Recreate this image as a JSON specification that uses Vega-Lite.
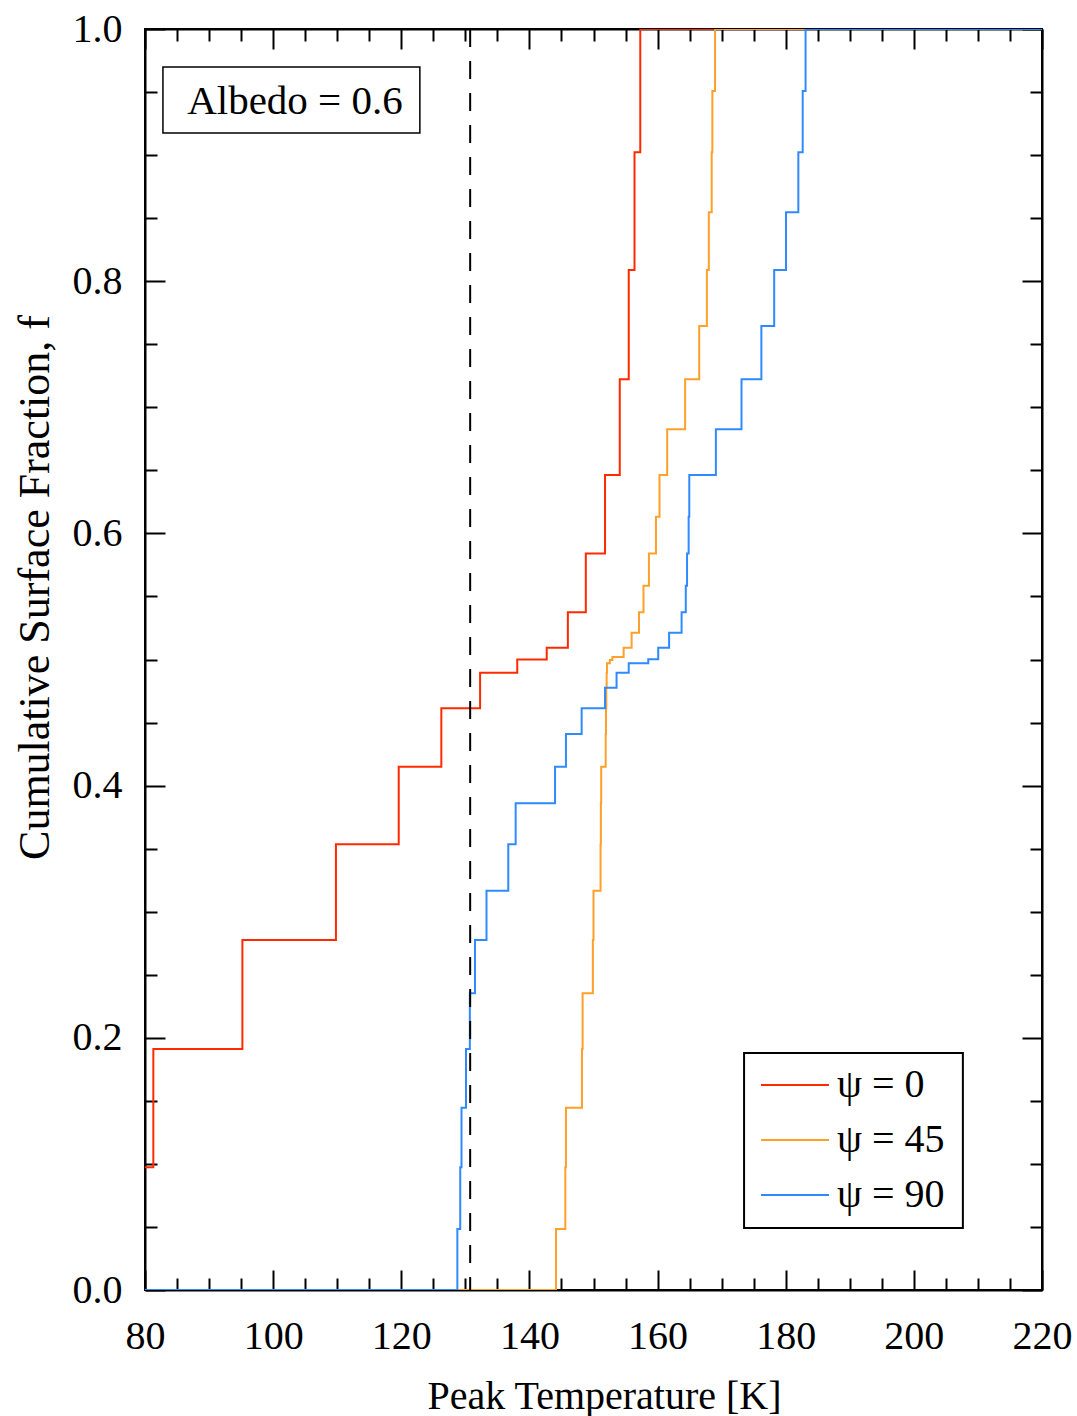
{
  "$schema": "https://vega.github.io/schema/vega-lite/v6.json",
  "width": 897,
  "height": 1261,
  "autosize": {"type": "none"},
  "padding": {"left": 145, "top": 29, "right": 35, "bottom": 126},
  "background": "white",
  "config": {
    "view": {"stroke": "black", "strokeWidth": 2},
    "font": "Liberation Serif",
    "axis": {
      "grid": false,
      "domainColor": "black",
      "domainWidth": 2,
      "tickColor": "black",
      "tickWidth": 2,
      "labelFont": "Liberation Serif",
      "labelFontSize": 40,
      "labelColor": "black",
      "titleFont": "Liberation Serif",
      "titleFontSize": 40,
      "titleFontWeight": "normal",
      "titleColor": "black"
    }
  },
  "datasets": {
    "curves": [
      {"psi": "ψ = 0", "i": 1, "T": 80, "f": 0.0973},
      {"psi": "ψ = 0", "i": 2, "T": 81.3, "f": 0.1911},
      {"psi": "ψ = 0", "i": 3, "T": 95.2, "f": 0.2776},
      {"psi": "ψ = 0", "i": 4, "T": 109.8, "f": 0.3534},
      {"psi": "ψ = 0", "i": 5, "T": 119.6, "f": 0.415},
      {"psi": "ψ = 0", "i": 6, "T": 126.25, "f": 0.4613},
      {"psi": "ψ = 0", "i": 7, "T": 132.3, "f": 0.4895},
      {"psi": "ψ = 0", "i": 8, "T": 138.1, "f": 0.5},
      {"psi": "ψ = 0", "i": 9, "T": 142.7, "f": 0.5094},
      {"psi": "ψ = 0", "i": 10, "T": 146.0, "f": 0.5374},
      {"psi": "ψ = 0", "i": 11, "T": 148.8, "f": 0.584},
      {"psi": "ψ = 0", "i": 12, "T": 151.8, "f": 0.6463},
      {"psi": "ψ = 0", "i": 13, "T": 154.1, "f": 0.7222},
      {"psi": "ψ = 0", "i": 14, "T": 155.5, "f": 0.8089},
      {"psi": "ψ = 0", "i": 15, "T": 156.4, "f": 0.9022},
      {"psi": "ψ = 0", "i": 16, "T": 157.3, "f": 1.0},
      {"psi": "ψ = 0", "i": 17, "T": 220, "f": 1.0},

      {"psi": "ψ = 45", "i": 1, "T": 80, "f": 0},
      {"psi": "ψ = 45", "i": 2, "T": 144.15, "f": 0.0484},
      {"psi": "ψ = 45", "i": 3, "T": 145.6, "f": 0.0973},
      {"psi": "ψ = 45", "i": 4, "T": 145.7, "f": 0.1446},
      {"psi": "ψ = 45", "i": 5, "T": 148.2, "f": 0.1911},
      {"psi": "ψ = 45", "i": 6, "T": 148.3, "f": 0.2353},
      {"psi": "ψ = 45", "i": 7, "T": 149.9, "f": 0.2776},
      {"psi": "ψ = 45", "i": 8, "T": 150.0, "f": 0.3167},
      {"psi": "ψ = 45", "i": 9, "T": 151.1, "f": 0.3534},
      {"psi": "ψ = 45", "i": 10, "T": 151.15, "f": 0.386},
      {"psi": "ψ = 45", "i": 11, "T": 151.2, "f": 0.415},
      {"psi": "ψ = 45", "i": 12, "T": 151.9, "f": 0.4409},
      {"psi": "ψ = 45", "i": 13, "T": 151.95, "f": 0.4613},
      {"psi": "ψ = 45", "i": 14, "T": 152.0, "f": 0.4776},
      {"psi": "ψ = 45", "i": 15, "T": 152.05, "f": 0.4895},
      {"psi": "ψ = 45", "i": 16, "T": 152.1, "f": 0.497},
      {"psi": "ψ = 45", "i": 17, "T": 152.55, "f": 0.4996},
      {"psi": "ψ = 45", "i": 18, "T": 152.95, "f": 0.502},
      {"psi": "ψ = 45", "i": 19, "T": 154.7, "f": 0.5094},
      {"psi": "ψ = 45", "i": 20, "T": 155.95, "f": 0.5213},
      {"psi": "ψ = 45", "i": 21, "T": 157.1, "f": 0.5374},
      {"psi": "ψ = 45", "i": 22, "T": 157.8, "f": 0.5585},
      {"psi": "ψ = 45", "i": 23, "T": 158.65, "f": 0.584},
      {"psi": "ψ = 45", "i": 24, "T": 159.75, "f": 0.6133},
      {"psi": "ψ = 45", "i": 25, "T": 160.3, "f": 0.6463},
      {"psi": "ψ = 45", "i": 26, "T": 161.5, "f": 0.6825},
      {"psi": "ψ = 45", "i": 27, "T": 164.3, "f": 0.7222},
      {"psi": "ψ = 45", "i": 28, "T": 166.5, "f": 0.7645},
      {"psi": "ψ = 45", "i": 29, "T": 167.7, "f": 0.8089},
      {"psi": "ψ = 45", "i": 30, "T": 168.0, "f": 0.8546},
      {"psi": "ψ = 45", "i": 31, "T": 168.45, "f": 0.9022},
      {"psi": "ψ = 45", "i": 32, "T": 168.55, "f": 0.9508},
      {"psi": "ψ = 45", "i": 33, "T": 168.97, "f": 1.0},
      {"psi": "ψ = 45", "i": 34, "T": 220, "f": 1.0},

      {"psi": "ψ = 90", "i": 1, "T": 80, "f": 0},
      {"psi": "ψ = 90", "i": 2, "T": 128.75, "f": 0.0484},
      {"psi": "ψ = 90", "i": 3, "T": 129.2, "f": 0.0973},
      {"psi": "ψ = 90", "i": 4, "T": 129.4, "f": 0.1446},
      {"psi": "ψ = 90", "i": 5, "T": 130.1, "f": 0.1911},
      {"psi": "ψ = 90", "i": 6, "T": 130.7, "f": 0.2353},
      {"psi": "ψ = 90", "i": 7, "T": 131.5, "f": 0.2776},
      {"psi": "ψ = 90", "i": 8, "T": 133.3, "f": 0.3167},
      {"psi": "ψ = 90", "i": 9, "T": 136.7, "f": 0.3534},
      {"psi": "ψ = 90", "i": 10, "T": 137.85, "f": 0.386},
      {"psi": "ψ = 90", "i": 11, "T": 144.0, "f": 0.415},
      {"psi": "ψ = 90", "i": 12, "T": 145.7, "f": 0.4409},
      {"psi": "ψ = 90", "i": 13, "T": 148.15, "f": 0.4613},
      {"psi": "ψ = 90", "i": 14, "T": 151.8, "f": 0.4776},
      {"psi": "ψ = 90", "i": 15, "T": 153.6, "f": 0.4895},
      {"psi": "ψ = 90", "i": 16, "T": 155.5, "f": 0.497},
      {"psi": "ψ = 90", "i": 17, "T": 158.55, "f": 0.5001},
      {"psi": "ψ = 90", "i": 18, "T": 160.1, "f": 0.5094},
      {"psi": "ψ = 90", "i": 19, "T": 161.8, "f": 0.5213},
      {"psi": "ψ = 90", "i": 20, "T": 163.75, "f": 0.5374},
      {"psi": "ψ = 90", "i": 21, "T": 164.4, "f": 0.5585},
      {"psi": "ψ = 90", "i": 22, "T": 164.6, "f": 0.584},
      {"psi": "ψ = 90", "i": 23, "T": 164.85, "f": 0.6133},
      {"psi": "ψ = 90", "i": 24, "T": 164.95, "f": 0.6463},
      {"psi": "ψ = 90", "i": 25, "T": 169.1, "f": 0.6825},
      {"psi": "ψ = 90", "i": 26, "T": 173.1, "f": 0.7222},
      {"psi": "ψ = 90", "i": 27, "T": 176.2, "f": 0.7645},
      {"psi": "ψ = 90", "i": 28, "T": 178.2, "f": 0.8089},
      {"psi": "ψ = 90", "i": 29, "T": 180.05, "f": 0.8546},
      {"psi": "ψ = 90", "i": 30, "T": 181.97, "f": 0.9022},
      {"psi": "ψ = 90", "i": 31, "T": 182.65, "f": 0.9508},
      {"psi": "ψ = 90", "i": 32, "T": 183.1, "f": 1.0},
      {"psi": "ψ = 90", "i": 33, "T": 220, "f": 1.0}
    ]
  },
  "layer": [
    {
      "data": {"values": [{"x1": 173.5, "x2": 207.65, "y1": 0.0492, "y2": 0.1879}]},
      "mark": {"type": "rect", "fill": "white", "stroke": "black", "strokeWidth": 2},
      "encoding": {
        "x": {"field": "x1", "type": "quantitative", "axis": null},
        "x2": {"field": "x2"},
        "y": {"field": "y1", "type": "quantitative", "axis": null},
        "y2": {"field": "y2"}
      }
    },
    {
      "data": {"name": "curves"},
      "mark": {"type": "line", "interpolate": "step-after", "strokeWidth": 2, "clip": true},
      "encoding": {
        "x": {
          "field": "T", "type": "quantitative",
          "scale": {"domain": [80, 220], "nice": false, "zero": false},
          "axis": {
            "orient": "bottom",
            "values": [80,85,90,95,100,105,110,115,120,125,130,135,140,145,150,155,160,165,170,175,180,185,190,195,200,205,210,215,220],
            "tickSize": {"condition": {"test": "datum.value % 20 === 0", "value": -20}, "value": -12},
            "labelExpr": "datum.value % 20 === 0 ? datum.label : ''",
            "labelPadding": 46,
            "labelFlush": false,
            "labelOverlap": false,
            "title": "Peak Temperature [K]",
            "titleX": 459,
            "titleY": 86,
            "titleBaseline": "top"
          }
        },
        "y": {
          "field": "f", "type": "quantitative",
          "scale": {"domain": [0, 1], "nice": false},
          "axis": {
            "orient": "left",
            "values": [0,0.05,0.1,0.15,0.2,0.25,0.3,0.35,0.4,0.45,0.5,0.55,0.6,0.65,0.7,0.75,0.8,0.85,0.9,0.95,1],
            "tickSize": {"condition": {"test": "round(datum.value*20) % 4 === 0", "value": -20}, "value": -12},
            "labelExpr": "round(datum.value*20) % 4 === 0 ? format(datum.value, '.1f') : ''",
            "labelPadding": 43,
            "labelFlush": false,
            "labelOverlap": false,
            "title": "Cumulative Surface Fraction, f",
            "titleFontSize": 44,
            "titleX": -132,
            "titleY": 558,
            "titleBaseline": "top",
            "titleAngle": -90
          }
        },
        "color": {
          "field": "psi", "type": "nominal",
          "scale": {"domain": ["ψ = 0", "ψ = 45", "ψ = 90"], "range": ["#FF2A00", "#FFA02A", "#2F8AFF"]},
          "legend": {
            "title": null,
            "orient": "none",
            "legendX": 615,
            "legendY": 1021,
            "symbolType": "stroke",
            "symbolSize": 4624,
            "symbolStrokeWidth": 2,
            "labelFont": "Liberation Serif",
            "labelFontSize": 40,
            "labelColor": "black",
            "labelOffset": 7,
            "rowPadding": 0,
            "padding": 0
          }
        },
        "order": {"field": "i", "type": "quantitative"}
      }
    },
    {
      "data": {"values": [{"T": 130.75}]},
      "mark": {"type": "rule", "color": "black", "strokeWidth": 2, "strokeDash": [18, 14]},
      "encoding": {
        "x": {
          "field": "T", "type": "quantitative",
          "axis": {
            "orient": "top",
            "values": [80,85,90,95,100,105,110,115,120,125,130,135,140,145,150,155,160,165,170,175,180,185,190,195,200,205,210,215,220],
            "tickSize": {"condition": {"test": "datum.value % 20 === 0", "value": -20}, "value": -12},
            "labels": false,
            "title": null
          }
        }
      }
    },
    {
      "data": {"values": [{"x1": 82.8, "x2": 122.9, "y1": 0.9175, "y2": 0.9699}]},
      "mark": {"type": "rect", "fill": "white", "stroke": "black", "strokeWidth": 1.5},
      "encoding": {
        "x": {"field": "x1", "type": "quantitative", "axis": null},
        "x2": {"field": "x2"},
        "y": {
          "field": "y1", "type": "quantitative",
          "axis": {
            "orient": "right",
            "values": [0,0.05,0.1,0.15,0.2,0.25,0.3,0.35,0.4,0.45,0.5,0.55,0.6,0.65,0.7,0.75,0.8,0.85,0.9,0.95,1],
            "tickSize": {"condition": {"test": "round(datum.value*20) % 4 === 0", "value": -20}, "value": -12},
            "labels": false,
            "title": null
          }
        },
        "y2": {"field": "y2"}
      }
    },
    {
      "data": {"values": [{"T": 103.4, "f": 0.9425, "label": "Albedo = 0.6"}]},
      "mark": {"type": "text", "fontSize": 41, "font": "Liberation Serif", "baseline": "middle", "align": "center", "color": "black"},
      "encoding": {
        "x": {"field": "T", "type": "quantitative", "axis": null},
        "y": {"field": "f", "type": "quantitative", "axis": null},
        "text": {"field": "label"}
      }
    }
  ],
  "resolve": {"axis": {"x": "independent", "y": "independent"}}
}
